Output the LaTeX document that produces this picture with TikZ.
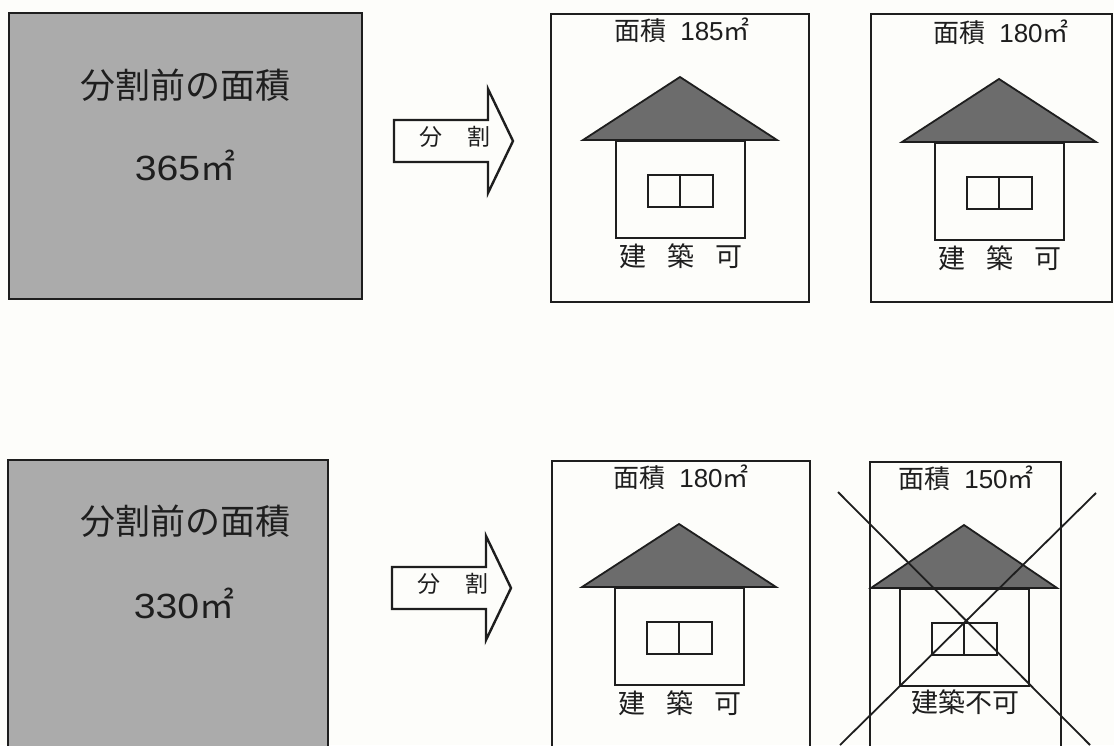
\documentclass[tikz,border=0pt]{standalone}
\usepackage{fontspec}
\setmainfont{Noto Sans CJK JP}
\newfontfamily\numfont{Liberation Sans}
\newfontfamily\widenum[FakeStretch=1.12]{Liberation Sans}
\definecolor{paper}{HTML}{FDFDFA}
\definecolor{plot}{HTML}{ABABAB}
\definecolor{roof}{HTML}{6C6C6C}
\definecolor{ink}{HTML}{1E1E1E}
\tikzstyle{outline} = [line width=2.4pt, draw=ink]
\tikzstyle{thinline} = [line width=1.8pt, draw=ink]
\tikzstyle{areatext} = [text=ink, inner sep=0, font=\fontsize{26}{30}\selectfont]
\tikzstyle{tagtext} = [text=ink, inner sep=0, font=\fontsize{27}{30}\selectfont]
\tikzstyle{splittext} = [text=ink, inner sep=0, font=\fontsize{23}{30}\selectfont]
\tikzstyle{plottext} = [text=ink, inner sep=0, font=\fontsize{35}{40}\selectfont]
\begin{document}
\begin{tikzpicture}[x=1pt,y=-1pt]
\useasboundingbox (0,0) rectangle (1114,745);
\clip (0,0) rectangle (1114,745);
\fill[paper] (0,0) rectangle (1114,745);

% plots before the split
\foreach \n/\xa/\ya/\xb/\yb in {a/9/13/362/299,b/8/460/328/760}{
	\draw[outline,fill=plot] (\xa,\ya) rectangle (\xb,\yb);
}
\node[plottext] (beforea) at (185,85) {分割前の面積};
\node[plottext] (sizea) at (185,165) {{\widenum 365}㎡};
\node[plottext] (beforeb) at (185,521) {分割前の面積};
\node[plottext] (sizeb) at (184,603) {{\widenum 330}㎡};

% split arrows
\foreach \n/\x/\y in {a/394/141,b/392/588}{
	\draw[outline,fill=paper] (\x,\y-21)--(\x+94,\y-21)--(\x+94,\y-52)--(\x+119,\y)
	 --(\x+94,\y+52)--(\x+94,\y+21)--(\x,\y+21)--cycle;
	\node[splittext] (split\n) at (\x+61,\y-4) {分\hspace{26pt}割};
}

% lots and houses
\foreach \n/\hx/\hy/\fa/\fb/\ft/\fd/\rw/\area in {a/680/77/551/809/14/302/97/185,b/999/79/871/1112/14/302/97/180,c/679/524/552/810/461/760/97/180,d/964/525/870/1061/462/760/93/150}{
	\draw[outline] (\fa,\ft) rectangle (\fb,\fd);
	\draw[thinline,fill=roof] (\hx,\hy)--(\hx+\rw,\hy+63)--(\hx-\rw,\hy+63)--cycle;
	\draw[outline] (\hx-64,\hy+64) rectangle (\hx+65,\hy+161);
	\draw[outline] (\hx-32,\hy+98) rectangle (\hx+33,\hy+130);
	\draw[outline] (\hx,\hy+98)--(\hx,\hy+130);
	\node[areatext] (area\n) at (\hx+2,\hy-47) {面積\hspace{14pt}{\numfont\area}㎡};
}
\node[tagtext] (taga) at (681,256) {建\hspace{21pt}築\hspace{21pt}可};
\node[tagtext] (tagb) at (1000,258) {建\hspace{21pt}築\hspace{21pt}可};
\node[tagtext] (tagc) at (680,703) {建\hspace{21pt}築\hspace{21pt}可};
\node[tagtext] (tagd) at (965,702) {建築不可};

% cross over the refused lot
\draw[thinline] (838,492)--(1090,745);
\draw[thinline] (1096,493)--(840,745);
\end{tikzpicture}
\end{document}
